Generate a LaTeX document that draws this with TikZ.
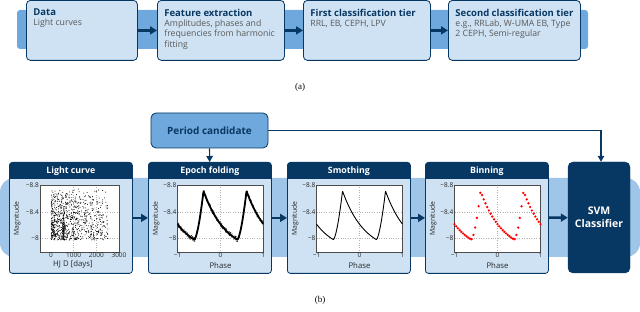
\documentclass[tikz,border=0pt]{standalone}
\usepackage{fontspec}
\setmainfont{Open Sans}
\newfontfamily\capfont{Liberation Serif}
\usetikzlibrary{arrows.meta,positioning}

\definecolor{navy}{HTML}{073763}
\definecolor{midblue}{HTML}{6FA8DC}
\definecolor{lightblue}{HTML}{9FC5E8}
\definecolor{pale}{HTML}{CFE2F3}
\definecolor{bodygrey}{HTML}{595959}

\newcommand{\stagetext}[3]{\parbox[t][43pt][t]{#1}{\raggedright{\color{navy}\bfseries\fontsize{9.5}{10.3}\selectfont #2}\\{\color{bodygrey}#3}}}

\begin{document}
\begin{tikzpicture}[x=1pt, y=-1pt,
    declare function={phz(\p)=frac(\p+2.395);
      lcmag(\p)=(phz(\p)<0.785) ? (-8.71+0.725*(1-exp(-1.5*phz(\p)/0.785))/0.7769) : (-7.985-0.725*pow((max(phz(\p)-0.785,0)+0.0001)/0.215,1.6));},
    stage/.style={draw=navy, fill=pale, rounded corners=4pt, line width=0.8pt, anchor=north west, inner xsep=7pt, inner ysep=8.5pt, font=\fontsize{8.7}{10.3}\selectfont},
    panel/.style={draw=navy, fill=pale, rounded corners=3pt, line width=0.8pt, anchor=north west, inner sep=0pt, minimum width=123pt, minimum height=111pt,
      path picture={\fill[navy, sharp corners] (path picture bounding box.north west) rectangle ([yshift=-17pt]path picture bounding box.north east);
        \node[headtext] at ([yshift=-8.5pt]path picture bounding box.north) {#1};}},
    headtext/.style={draw=none, fill=none, anchor=center, minimum width=0pt, minimum height=0pt, sharp corners, text=white, inner sep=0pt, font=\bfseries\fontsize{8.8}{10}\selectfont},
    pcbox/.style={draw=navy, fill=midblue, rounded corners=5pt, line width=0.8pt, minimum width=117pt, minimum height=35pt, text=navy, font=\bfseries\fontsize{10}{12}\selectfont},
    svm/.style={draw=navy, fill=navy, rounded corners=5pt, minimum width=62pt, minimum height=111pt, align=center, text=white, font=\bfseries\fontsize{10.5}{13}\selectfont},
    bigarrow/.style={draw=navy, line width=2.4pt, -{Triangle[length=7pt,width=8pt]}},
    thinarrow/.style={draw=navy, line width=1.2pt, -{Triangle[length=6pt,width=6.5pt]}},
    ticklabel/.style={inner sep=1pt, text=black!85, font=\fontsize{6.5}{7}\selectfont},
    axislabel/.style={inner sep=0pt, text=black!85, font=\fontsize{7.8}{9}\selectfont},
    maglabel/.style={inner sep=0pt, rotate=90, text=black!85, font=\fontsize{6.8}{8}\selectfont},
    gridline/.style={draw=gray!60, dotted, line width=0.4pt},
    frameline/.style={draw=black!70, line width=0.5pt},
    caption/.style={font=\capfont\fontsize{9}{10}\selectfont}
  ]
  \useasboundingbox (0,0) rectangle (640,312);

  % (a) pipeline
  \fill[midblue, rounded corners=3pt] (17,10) rectangle (588,49);
  \node[stage] (data) at (26,0) {\stagetext{97pt}{Data}{Light curves}};
  \node[stage] (feature) at (157,0) {\stagetext{113pt}{Feature extraction}{Amplitudes, phases and\\frequencies from harmonic\\fitting}};
  \node[stage] (tier1) at (303,0) {\stagetext{113pt}{First classification tier}{RRL, EB, CEPH, LPV}};
  \node[stage] (tier2) at (448,0) {\stagetext{118pt}{Second classification tier}{e.g., RRLab, W-UMA EB, Type\\2 CEPH, Semi-regular}};
  \draw[bigarrow] (data) -- (feature);
  \draw[bigarrow] (feature) -- (tier1);
  \draw[bigarrow] (tier1) -- (tier2);
  \node[caption] (capa) at (300,87) {(a)};

  % (b) pipeline
  \fill[lightblue, rounded corners=14pt] (0,178) rectangle (640,257);
  \node[pcbox] (period) at (209.5,130.5) {Period candidate};
  \node[panel=Light curve] (lightcurve) at (9,162) {};
  \node[panel=Epoch folding] (folding) at (148,162) {};
  \node[panel=Smothing] (smoothing) at (287,162) {};
  \node[panel=Binning] (binning) at (425,162) {};
  \node[svm] (svm) at (599,217.5) {SVM\\Classifier};
  \draw[bigarrow] (lightcurve) -- (folding);
  \draw[bigarrow] (folding) -- (smoothing);
  \draw[bigarrow] (smoothing) -- (binning);
  \draw[bigarrow] (binning) -- (svm);
  \draw[thinarrow] (period) -- (folding);
  \draw[thinarrow] (period.east) -| ([xshift=2pt]svm.north);
  \node[caption] (capb) at (320,300) {(b)};

  % light curve axes
  \begin{scope}[shift={(40,185)}, x=22.7pt, y=-67pt]
    \fill[white] (0,0) rectangle (3.48,1);
    \draw[gridline] (1.48,0) -- (1.48,1) (2.48,0) -- (2.48,1) (0,0.4) -- (3.48,0.4) (0,0.8) -- (3.48,0.8);
    \pgfmathsetseed{7}
    \foreach \i in {1,...,800} {
      \pgfmathsetmacro\dd{0.5+2.5*pow(rnd,1.6)}
      \pgfmathsetmacro\mg{0.06+0.76*pow(rnd,0.7)}
      \fill (\dd,\mg) circle (0.5pt);
    }
    \foreach \i in {1,...,80} {
      \pgfmathsetmacro\dd{1.0+0.08*rnd}
      \pgfmathsetmacro\mg{0.3+0.52*pow(rnd,0.5)}
      \fill (\dd,\mg) circle (0.5pt);
    }
    \draw[frameline] (0,0) rectangle (3.48,1);
    \foreach \v/\lab in {0/−8.8, 0.4/−8.4, 0.8/−8}
      \node[ticklabel, anchor=east] at (0,\v) {\lab};
    \foreach \v/\lab in {0.48/0, 1.48/1000, 2.48/2000, 3.48/3000}
      \node[ticklabel, anchor=north] at (\v,1) {\lab};
    \node[axislabel] at (1.45,1.19) {HJ D [days]};
    \node[maglabel] at (-1.01,0.5) {Magnitude};
  \end{scope}

  % phase axes
  \foreach \px in {148,287,425} {
    \begin{scope}[shift={(\px+29.5,185)}, x=43pt, y=-67pt]
      \fill[white] (0,0) rectangle (2,1);
      \draw[gridline] (1,0) -- (1,1) (0,0.4) -- (2,0.4) (0,0.8) -- (2,0.8);
      \draw[frameline] (0,0) rectangle (2,1);
      \foreach \v/\lab in {0/−8.8, 0.4/−8.4, 0.8/−8}
        \node[ticklabel, anchor=east] at (0,\v) {\lab};
      \foreach \v/\lab in {0/−1, 1/0, 2/1}
        \node[ticklabel, anchor=north] at (\v,1) {\lab};
      \node[axislabel] at (1,1.21) {Phase};
      \node[maglabel] at (-0.5,0.5) {Magnitude};
    \end{scope}
  }

  % epoch folding
  \begin{scope}[shift={(177.5,185)}, x=43pt, y=-67pt]
    \clip (0,0) rectangle (2,1);
    \draw[line width=1.8pt, line join=round] plot[domain=-1:1, samples=241] (\x+1, {lcmag(\x)+8.8});
    \pgfmathsetseed{11}
    \foreach \i in {1,...,300} {
      \pgfmathsetmacro\ph{2*rnd-1}
      \pgfmathsetmacro\mg{lcmag(\ph)+8.8+0.035*rand}
      \fill (\ph+1,\mg) circle (0.45pt);
    }
  \end{scope}

  % smoothing
  \begin{scope}[shift={(316.5,185)}, x=43pt, y=-67pt]
    \draw[line width=0.9pt, line join=round] plot[domain=-1:1, samples=241] (\x+1, {lcmag(\x)+8.8});
  \end{scope}

  % binning
  \begin{scope}[shift={(454.5,185)}, x=43pt, y=-67pt]
    \foreach \ph in {-1,-0.96,...,1.001}
      \fill[red] (\ph+1, {lcmag(\ph)+8.8}) circle (1.3pt);
  \end{scope}
\end{tikzpicture}
\end{document}
